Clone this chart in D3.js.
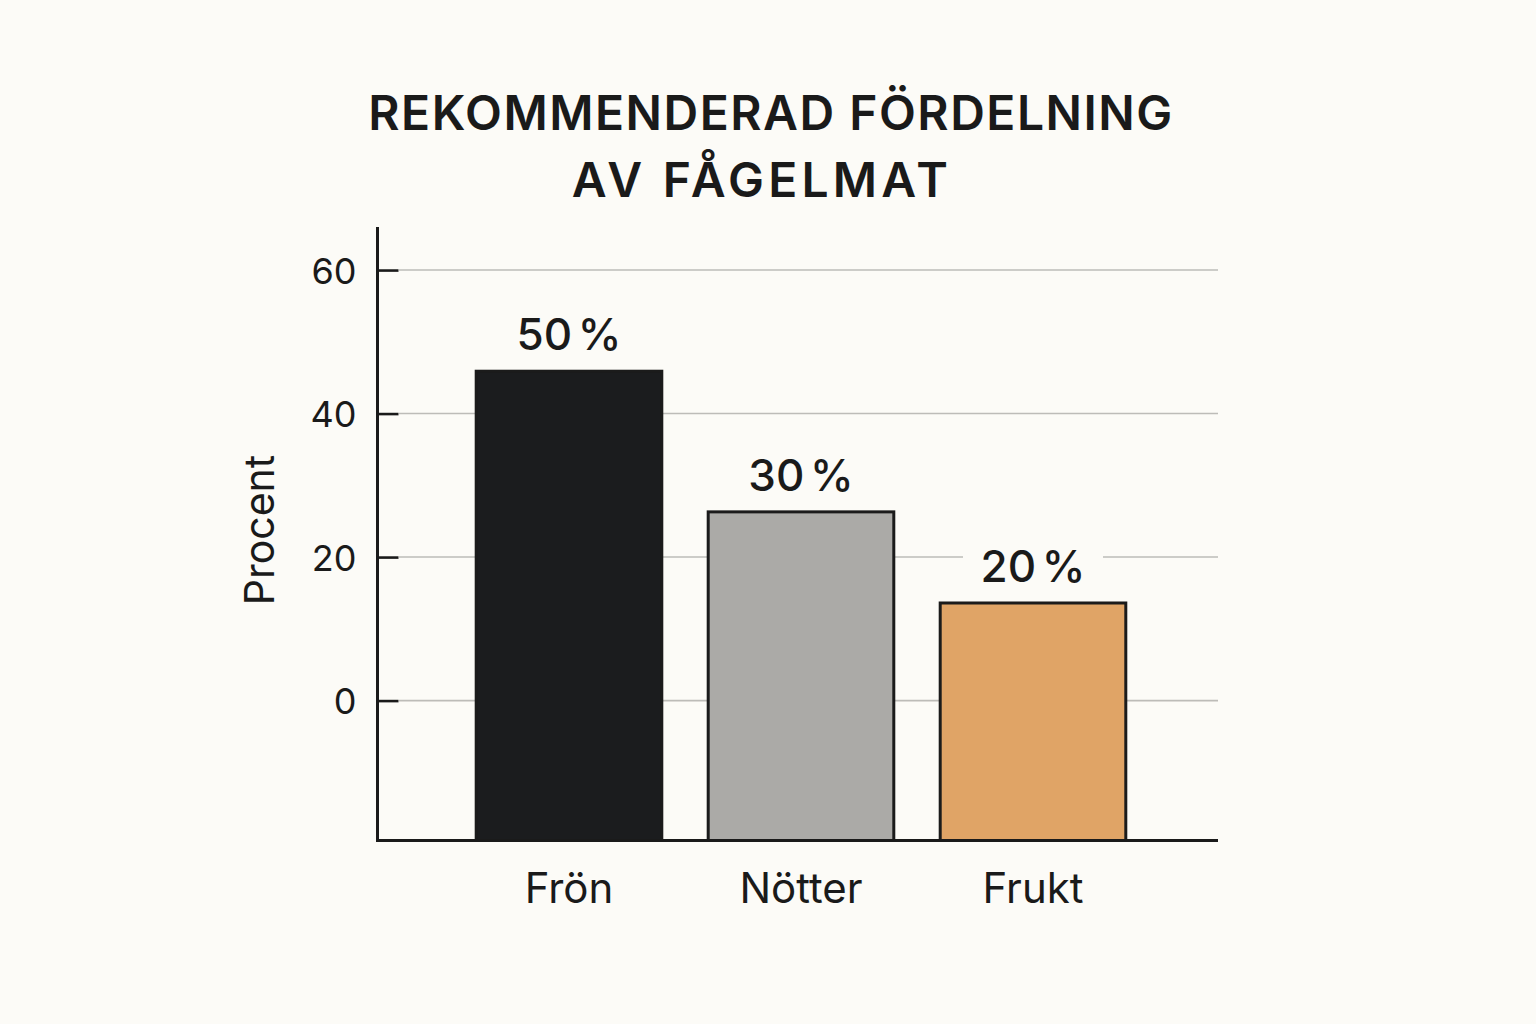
<!DOCTYPE html>
<html>
<head>
<meta charset="utf-8">
<script src="https://cdn.jsdelivr.net/npm/d3@7"></script>
<style>
  html, body { margin: 0; padding: 0; background: #fcfbf7; }
  svg { display: block; }
  text { font-family: Inter, "DejaVu Sans", sans-serif; fill: #1a1a1a; }
</style>
</head>
<body>
<svg id="chart" width="1536" height="1024"></svg>
<script>
// ---- data ----
const categories = ["Frön", "Nötter", "Frukt"];
const barValues = [45.9, 26.3, 13.6];          // bar heights as read on the y axis
const valueLabels = ["50 %", "30 %", "20 %"];  // printed labels
const barColors = ["#1b1c1e", "#abaaa7", "#e0a466"];
const yTicks = [0, 20, 40, 60];
const titleLines = ["REKOMMENDERAD FÖRDELNING", "AV FÅGELMAT"];
const yLabel = "Procent";

// ---- layout ----
const svg = d3.select("#chart");
const W = 1536, H = 1024;
const axisX = 377.5, axisBottom = 840.5, axisTop = 227, plotRight = 1218;

svg.append("rect").attr("width", W).attr("height", H).attr("fill", "#fcfbf7");

const x = d3.scaleBand().domain(categories).range([453, 1149]).paddingInner(0.2).paddingOuter(0.1);
const y = d3.scaleLinear().domain([-19.5, 66]).range([axisBottom, axisTop]);

// title
svg.append("g").selectAll("text").data(titleLines).join("text")
  .attr("x", (d, i) => i === 0 ? 771 : 762).attr("y", (d, i) => 130 + i * 67)
  .attr("text-anchor", "middle")
  .attr("font-size", 48).attr("font-weight", 600)
  .attr("letter-spacing", (d, i) => i === 0 ? 1.5 : 4.2)
  .text(d => d);

// gridlines
svg.append("g").selectAll("line").data(yTicks).join("line")
  .attr("x1", 399).attr("x2", plotRight)
  .attr("y1", d => y(d)).attr("y2", d => y(d))
  .attr("stroke", "#bdbcb8").attr("stroke-width", 1.6);

// bars
svg.append("g").selectAll("rect").data(categories).join("rect")
  .attr("x", d => x(d))
  .attr("width", x.bandwidth())
  .attr("y", (d, i) => y(barValues[i]))
  .attr("height", (d, i) => y.range()[0] - y(barValues[i]))
  .attr("fill", (d, i) => barColors[i])
  .attr("stroke", "#1b1b1b").attr("stroke-width", 3);

// value labels with background knockout
const lab = svg.append("g").selectAll("g").data(categories).join("g")
  .attr("transform", (d, i) => `translate(${x(d) + x.bandwidth() / 2},${y(barValues[i]) - 21})`);
lab.append("rect")
  .attr("x", -70).attr("width", 140).attr("y", -38).attr("height", 44)
  .attr("fill", "#fcfbf7");
lab.append("text")
  .attr("text-anchor", "middle")
  .attr("font-size", 44).attr("font-weight", 500)
  .attr("word-spacing", -6)
  .text((d, i) => valueLabels[i]);

// y axis
const yAxis = d3.axisLeft(y).tickValues(yTicks).tickSizeInner(-21).tickSizeOuter(0).tickPadding(21);
const yg = svg.append("g").attr("transform", `translate(${axisX},0)`).call(yAxis);
yg.select(".domain").remove();
yg.selectAll(".tick line").attr("stroke", "#1a1a1a").attr("stroke-width", 2.6);
yg.selectAll(".tick text").attr("font-size", 36).attr("font-family", "Inter").attr("fill", "#1a1a1a").attr("dy", "0.36em");

// x axis
const xAxis = d3.axisBottom(x).tickSize(0).tickPadding(0);
const xg = svg.append("g").attr("transform", `translate(0,${axisBottom})`).call(xAxis);
xg.select(".domain").remove();
xg.selectAll(".tick text").attr("font-size", 42).attr("font-family", "Inter").attr("fill", "#1a1a1a")
  .attr("y", 62).attr("dy", 0);

// axis lines
svg.append("line").attr("x1", axisX).attr("x2", axisX).attr("y1", axisTop).attr("y2", axisBottom + 1.5)
  .attr("stroke", "#1a1a1a").attr("stroke-width", 3);
svg.append("line").attr("x1", axisX - 1.5).attr("x2", plotRight).attr("y1", axisBottom).attr("y2", axisBottom)
  .attr("stroke", "#1a1a1a").attr("stroke-width", 3);

// y label
svg.append("text")
  .attr("transform", `translate(274,${530}) rotate(-90)`)
  .attr("text-anchor", "middle")
  .attr("font-size", 41)
  .text(yLabel);
</script>
</body>
</html>
